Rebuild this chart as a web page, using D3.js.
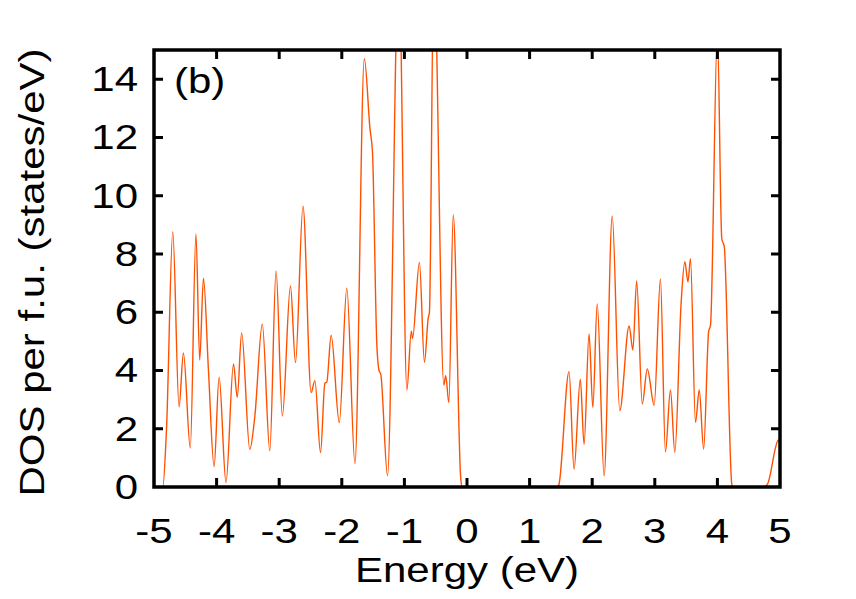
<!DOCTYPE html>
<html>
<head>
<meta charset="utf-8">
<script src="https://cdn.jsdelivr.net/npm/d3@7"></script>
<style>
  body { margin: 0; background: #fff; }
  text { font-family: "Liberation Sans", Arial, sans-serif; fill: #000; }
</style>
</head>
<body>
<svg id="chart"></svg>
<script>
// DOS curve (peaks, valleys, shoulders)
const energy = [-5, -4.86, -4.8, -4.70, -4.60, -4.53, -4.42, -4.33, -4.27, -4.21, -4.13, -4.04, -3.96, -3.85,
  -3.73, -3.67, -3.60, -3.47, -3.39, -3.27, -3.15, -3.05, -2.95, -2.82, -2.74, -2.62, -2.49, -2.43, -2.34,
  -2.27, -2.24, -2.17, -2.04, -1.92, -1.79, -1.64, -1.55, -1.51, -1.44, -1.40, -1.38, -1.27, -1.09, -0.96,
  -0.89, -0.87, -0.76, -0.68, -0.62, -0.60, -0.53, -0.37, -0.34, -0.29, -0.22, -0.10, -0.08,
  1.45, 1.47, 1.63, 1.71, 1.81, 1.87, 1.95, 2.01, 2.08, 2.19, 2.32, 2.44, 2.59, 2.65, 2.71, 2.80, 2.88,
  2.99, 3.09, 3.17, 3.25, 3.32, 3.42, 3.48, 3.53, 3.57, 3.65, 3.71, 3.78, 3.86, 3.89, 4.00, 4.07, 4.11,
  4.23, 4.25, 4.74, 4.80, 4.97, 5.0];
const dos = [0, 0, 2.0, 8.76, 2.75, 4.6, 1.34, 8.68, 4.36, 7.17, 4.0, 0.70, 3.77, 0.15,
  4.22, 3.08, 5.29, 1.29, 2.41, 5.59, 1.25, 7.42, 2.44, 6.9, 4.27, 9.64, 3.24, 3.65, 1.18,
  3.56, 3.6, 5.21, 2.21, 6.82, 0.81, 14.7, 12.3, 11.5, 4.87, 3.96, 3.9, 0.39, 18.0, 3.33,
  5.35, 5.1, 7.71, 4.28, 5.79, 6.0, 18.0, 3.5, 3.82, 2.9, 9.35, 0.3, 0,
  0, 0.1, 3.96, 0.61, 3.7, 1.46, 5.25, 2.73, 6.28, 0.38, 9.3, 2.62, 5.53, 4.7, 7.07, 2.85, 4.05,
  2.81, 7.14, 1.21, 3.33, 1.19, 6.3, 7.73, 7.04, 7.84, 2.22, 3.33, 1.3, 5.33, 5.56, 15.6, 8.53, 8.24,
  0.1, 0, 0, 0.1, 1.6, 1.62];

const xTicks = [-5, -4, -3, -2, -1, 0, 1, 2, 3, 4, 5];
const yTicks = [0, 2, 4, 6, 8, 10, 12, 14];

const W = 856, H = 599;
const margin = { top: 50, right: 76, bottom: 112, left: 154 };
const width = W - margin.left - margin.right;
const height = H - margin.top - margin.bottom;

// the original font is drawn wide, so text gets a horizontal stretch
const fs = 35, sx = 1.2;

const svg = d3.select("#chart").attr("width", W).attr("height", H);
const g = svg.append("g").attr("transform", `translate(${margin.left},${margin.top})`);

const x = d3.scaleLinear().domain([-5, 5]).range([0, width]);
const y = d3.scaleLinear().domain([0, 15]).range([height, 0]);

g.append("clipPath").attr("id", "clip")
  .append("rect").attr("width", width).attr("height", height);

const data = energy.map((e, i) => ({ e: e, v: dos[i] }));

const line = d3.line()
  .x(d => x(d.e))
  .y(d => y(d.v))
  .curve(d3.curveMonotoneX);

g.append("path")
  .datum(data)
  .attr("clip-path", "url(#clip)")
  .attr("fill", "none")
  .attr("stroke", "#ff5000")
  .attr("stroke-width", 1.4)
  .attr("d", line);

// Ticks on all four sides, pointing inward
const tl = 9;
g.selectAll(".xt").data(xTicks.slice(1, -1)).enter().append("path")
  .attr("d", d => `M${x(d)},${height}v${-tl}M${x(d)},0v${tl}`)
  .attr("stroke", "#000").attr("stroke-width", 3);
g.selectAll(".yt").data(yTicks.slice(1)).enter().append("path")
  .attr("d", d => `M0,${y(d)}h${tl}M${width},${y(d)}h${-tl}`)
  .attr("stroke", "#000").attr("stroke-width", 3);

// Frame
g.append("rect")
  .attr("width", width).attr("height", height)
  .attr("fill", "none").attr("stroke", "#000").attr("stroke-width", 3.5);

function label(px, py, anchor, str, rot) {
  g.append("text")
    .attr("transform", `translate(${px},${py})` + (rot ? ` rotate(${rot})` : "") + ` scale(${sx},1)`)
    .attr("text-anchor", anchor).attr("font-size", fs)
    .text(str);
}

// Tick labels
xTicks.forEach(d => label(x(d), height + 56, "middle", d));
yTicks.forEach(d => label(-16, y(d) + 12, "end", d));

// Axis titles
label(width / 2, height + 95, "middle", "Energy (eV)");
label(-110, height / 2 + 4, "middle", "DOS per f.u. (states/eV)", -90);

label(20, 43, "start", "(b)");
</script>
</body>
</html>
